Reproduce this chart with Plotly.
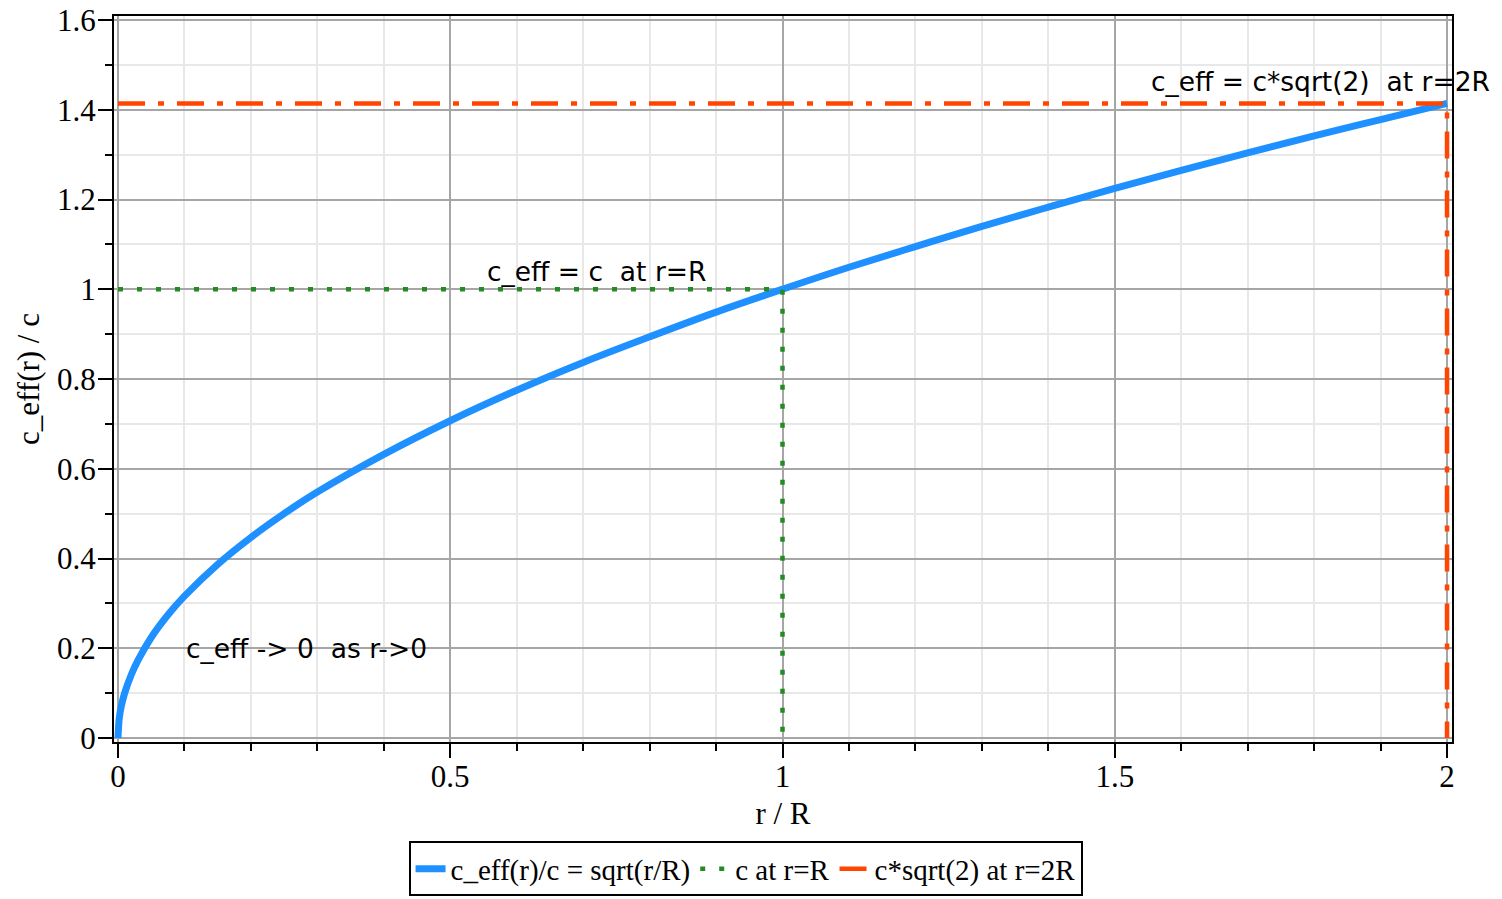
import plotly.graph_objects as go

# ---- data ----
r_vals = [0, 0.002, 0.005, 0.01, 0.02, 0.03, 0.05, 0.075, 0.1, 0.15, 0.2, 0.25, 0.3,
          0.4, 0.5, 0.6, 0.7, 0.8, 0.9, 1.0, 1.1, 1.2, 1.3, 1.4, 1.5, 1.6, 1.7,
          1.8, 1.9, 2.0]
ceff_vals = [0, 0.045, 0.071, 0.1, 0.141, 0.173, 0.224, 0.274, 0.316, 0.387, 0.447,
             0.5, 0.548, 0.632, 0.707, 0.775, 0.837, 0.894, 0.949, 1.0, 1.049,
             1.095, 1.140, 1.183, 1.225, 1.265, 1.304, 1.342, 1.378, 1.414]

green_x = [0, 1, 1]
green_y = [1, 1, 0]
orange_x = [0, 2, 2]
orange_y = [1.414, 1.414, 0]

series_names = ["c_eff(r)/c = sqrt(r/R)", "c at r=R", "c*sqrt(2) at r=2R"]

annot_texts = ["c_eff = c\u00a0 at r=R", "c_eff = c*sqrt(2)\u00a0 at r=2R", "c_eff -> 0\u00a0 as r->0"]
annot_x = [0.72, 1.81, 0.284]
annot_y = [1.04, 1.464, 0.2]

x_ticks = [0, 0.5, 1, 1.5, 2]
x_ticktext = ["0", "0.5", "1", "1.5", "2"]
y_ticks = [0, 0.2, 0.4, 0.6, 0.8, 1.0, 1.2, 1.4, 1.6]
y_ticktext = ["0", "0.2", "0.4", "0.6", "0.8", "1", "1.2", "1.4", "1.6"]

SERIF = "Liberation Serif"
SANS = "DejaVu Sans"

fig = go.Figure()
fig.add_trace(go.Scatter(x=r_vals, y=ceff_vals, mode="lines", name=series_names[0],
                         line=dict(color="#1E90FF", width=7, shape="spline")))
fig.add_trace(go.Scatter(x=green_x, y=green_y, mode="lines", name=series_names[1],
                         line=dict(color="#228B22", width=4.5, dash="5px,14px")))
fig.add_trace(go.Scatter(x=orange_x, y=orange_y, mode="lines", name=series_names[2],
                         line=dict(color="#FF4500", width=4.5, dash="27px,13px,6px,13px")))

for t, ax, ay in zip(annot_texts, annot_x, annot_y):
    fig.add_annotation(x=ax, y=ay, xref="x", yref="y", text=t, showarrow=False,
                       font=dict(family=SANS, size=26.5, color="black"))

axis_common = dict(
    showline=True, linecolor="black", linewidth=2, mirror=True,
    ticks="outside", tickcolor="black", tickwidth=2, ticklen=14,
    showgrid=True, gridcolor="#a6a6a6", gridwidth=2, zeroline=False,
    automargin=False,
    tickfont=dict(family=SERIF, size=31, color="black"),
    title_font=dict(family=SERIF, size=31, color="black"),
)

fig.update_xaxes(
    range=[-0.006, 2.0075], tickvals=x_ticks, ticktext=x_ticktext,
    title_text="r / R", title_standoff=9, ticklabelstandoff=-8,
    minor=dict(dtick=0.1, tick0=0, ticks="outside", ticklen=7, tickcolor="black", tickwidth=2,
               showgrid=True, gridcolor="#e8e8e8", gridwidth=2),
    **axis_common)
fig.update_yaxes(
    range=[-0.0089, 1.6089], tickvals=y_ticks, ticktext=y_ticktext,
    title_text="c_eff(r) / c", title_standoff=8, ticklabelstandoff=-4,
    minor=dict(dtick=0.1, tick0=0, ticks="outside", ticklen=7, tickcolor="black", tickwidth=2,
               showgrid=True, gridcolor="#e8e8e8", gridwidth=2),
    **axis_common)

fig.update_layout(
    width=1502, height=899, autosize=False,
    margin=dict(l=114, r=50, t=16, b=157, autoexpand=False),
    paper_bgcolor="white", plot_bgcolor="white",
    showlegend=True,
    legend=dict(orientation="h", x=0.472, xanchor="center", y=-0.137, yanchor="top",
                bordercolor="black", borderwidth=2, bgcolor="white",
                font=dict(family=SERIF, size=29, color="black"),
                itemwidth=30, tracegroupgap=0),
)

fig.write_html("out.html")
